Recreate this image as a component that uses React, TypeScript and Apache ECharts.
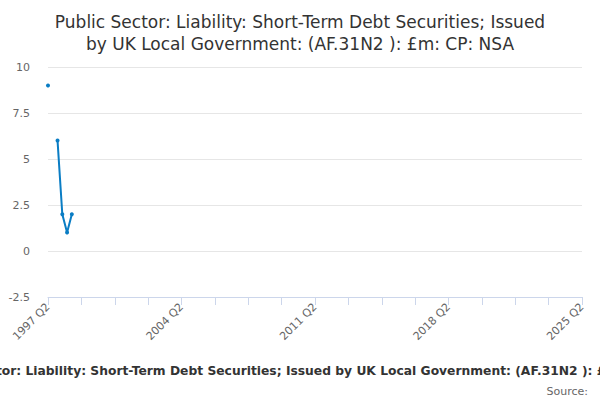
import React, { useEffect, useRef } from "react";
import * as echarts from "echarts";

const titleText = "Public Sector: Liability: Short-Term Debt Securities; Issued\nby UK Local Government: (AF.31N2 ): £m: CP: NSA";
const legendText = "Public Sector: Liability: Short-Term Debt Securities; Issued by UK Local Government: (AF.31N2 ): £m: CP: NSA";
const sourceText = "Source:";

const startYear = 1997;
const endYear = 2025;
const quarters: string[] = [];
for (let y = startYear; y <= endYear; y++) {
  for (let q = 1; q <= 4; q++) {
    if (y === startYear && q < 2) continue;
    if (y === endYear && q > 2) continue;
    quarters.push(`${y} Q${q}`);
  }
}
const knownPeriods = ["1997 Q2", "1997 Q3", "1997 Q4", "1998 Q1", "1998 Q2", "1998 Q3"];
const knownValues: (number | null)[] = [9, null, 6, 2, 1, 2];

export default function App() {
  const ref = useRef<HTMLDivElement>(null);
  useEffect(() => {
    if (!ref.current) return;
    const chart = echarts.init(ref.current, null, { renderer: "svg" });
    const data = quarters.map((q) => {
      const i = knownPeriods.indexOf(q);
      return i >= 0 ? knownValues[i] : null;
    });
    chart.setOption({
      animation: false,
      title: {
        text: titleText,
        left: "center",
        top: 6,
        textStyle: { fontFamily: "DejaVu Sans", fontSize: 17, fontWeight: "normal", color: "#333", lineHeight: 22 },
      },
      grid: { left: 48, right: 18, top: 67, bottom: 103, containLabel: false },
      xAxis: {
        type: "category",
        data: quarters,
        boundaryGap: false,
        axisLine: { onZero: false, lineStyle: { color: "#ccd6eb" } },
        axisTick: { interval: 6, length: 8, lineStyle: { color: "#ccd6eb" } },
        axisLabel: { interval: 27, rotate: 45, color: "#666", fontFamily: "DejaVu Sans", fontSize: 11, margin: 8 },
        splitLine: { show: false },
      },
      yAxis: {
        type: "value",
        min: -2.5,
        max: 10,
        interval: 2.5,
        axisLine: { show: false },
        axisTick: { show: false },
        axisLabel: { color: "#666", fontFamily: "DejaVu Sans", fontSize: 11, margin: 18 },
        splitLine: { lineStyle: { color: "#e6e6e6" } },
      },
      series: [
        {
          type: "line",
          data,
          connectNulls: false,
          symbol: "circle",
          symbolSize: 4,
          showSymbol: true,
          showAllSymbol: true,
          itemStyle: { color: "#0a7dc4" },
          lineStyle: { color: "#0a7dc4", width: 2 },
        },
      ],
      graphic: [
        {
          type: "text",
          x: 304,
          y: 365,
          style: { text: legendText, fontFamily: "DejaVu Sans", fontSize: 12.3, fontWeight: "bold", fill: "#333", align: "center" },
        },
        {
          type: "text",
          x: 588,
          y: 386,
          style: { text: sourceText, fontFamily: "DejaVu Sans", fontSize: 11, fill: "#666", align: "right" },
        },
      ],
    });
    return () => chart.dispose();
  }, []);
  return <div ref={ref} style={{ width: 600, height: 400, position: "absolute", left: 0, top: 0 }} />;
}
